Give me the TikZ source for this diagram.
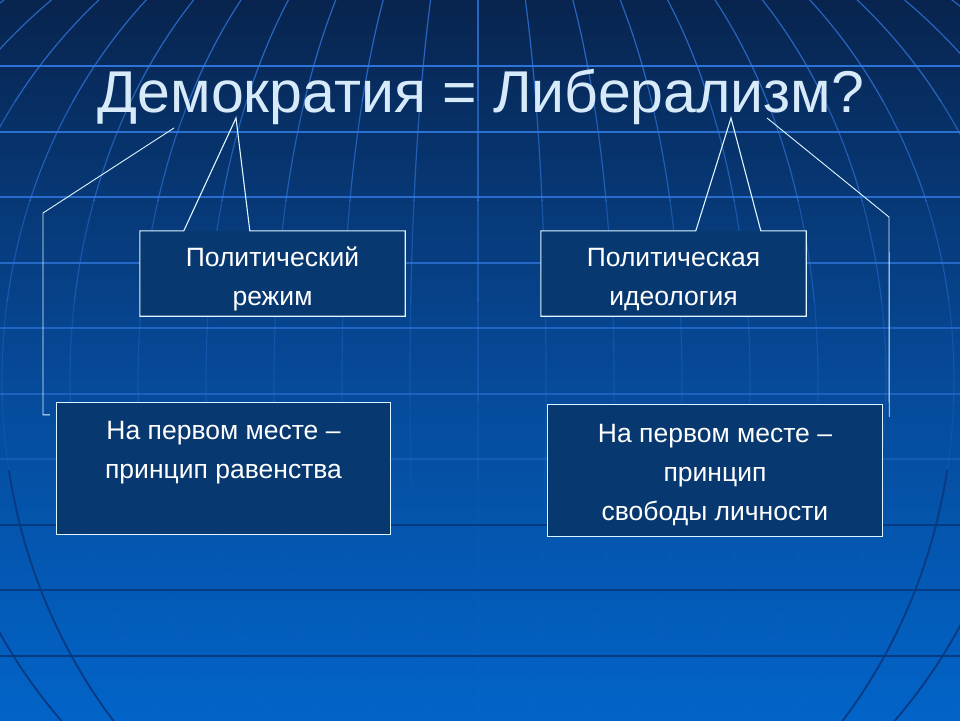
\documentclass[tikz,border=0pt]{standalone}
\usepackage{fontspec}
\setmainfont{Liberation Sans}
\usetikzlibrary{calc}
\definecolor{bgtop}{RGB}{8,36,78}
\definecolor{bgmid}{RGB}{6,72,150}
\definecolor{bgbot}{RGB}{2,100,200}
\definecolor{gridlight}{RGB}{50,122,228}
\definecolor{griddark}{RGB}{8,58,130}
\definecolor{boxfill}{RGB}{8,56,112}
\definecolor{boxline}{RGB}{222,246,255}
\definecolor{titlecol}{RGB}{214,234,250}
\begin{document}
\begin{tikzpicture}[x=1pt,y=-1pt,
  boxshape/.style={fill=boxfill, draw=none, inner sep=0pt},
  boxborder/.style={draw=boxline, line width=1.1pt, line join=miter},
  boxtext/.style={text=white, align=center, inner sep=0pt, font=\fontsize{26.5}{39}\selectfont},
  callline/.style={draw=boxline, line width=0.9pt, line join=miter},
  hline/.style={line width=2pt},
  mer/.style={line width=1.2pt},
  titlefont/.style={font=\fontsize{59}{70}\selectfont, inner sep=0pt, anchor=base}]
\useasboundingbox (0,0) rectangle (960,720);
% background
\shade[top color=bgtop, bottom color=bgmid] (0,0) rectangle (960,361);
\shade[top color=bgmid, bottom color=bgbot] (0,360) rectangle (960,720);
% meridians (fading downwards)
\foreach \ya/\yb/\o in {0/100/0.75, 100/200/0.6, 200/300/0.42, 300/400/0.28, 400/480/0.16, 480/720/0.06} {
  \begin{scope}
    \clip (0,\ya) rectangle (960,\yb);
    \foreach \k in {1,...,11}
      \draw[mer, gridlight, opacity=\o] (478,380) ellipse [x radius=68*\k, y radius=530];
    \draw[mer, gridlight, opacity=\o] (478,0) -- (478,720);
  \end{scope}
}
\begin{scope}
  \clip (0,470) rectangle (960,720);
  \foreach \k in {7,8}
    \draw[line width=1.8pt, griddark] (478,380) ellipse [x radius=68*\k, y radius=530];
\end{scope}
% horizontal lines
\foreach \y/\o in {66/0.9, 132/0.85, 197/0.8, 263/0.7, 328/0.6, 394/0.5, 459/0.3}
  \draw[hline, gridlight, opacity=\o] (0,\y) -- (960,\y);
\foreach \y in {525,590,656}
  \draw[hline, griddark] (0,\y) -- (960,\y);

% title
\node[titlefont, text=titlecol] (title) at (481,112) {Демократия = Либерализм?};

% boxes
\node[boxshape, minimum width=265pt, minimum height=85pt] (b1) at (272.5,273.5) {};
\node[boxshape, minimum width=265pt, minimum height=85pt] (b2) at (673.5,273.5) {};
\node[boxshape, minimum width=333pt, minimum height=131pt] (b3) at (223.5,468.5) {};
\node[boxshape, minimum width=334pt, minimum height=131pt] (b4) at (715,470.5) {};

\coordinate (tip1) at (236,118);
\coordinate (tip2) at (731,118);
\coordinate (l1) at (174,128);
\coordinate (l2) at (43,213);
\coordinate (r1) at (767,118);
\coordinate (r2) at (889,217);

% callout outlines
\draw[boxborder] ([xshift=44pt]b1.north west) -- (b1.north west) -- (b1.south west) -- (b1.south east)
  -- (b1.north east) -- ([xshift=110pt]b1.north west) -- (tip1) -- cycle;
\draw[boxborder] ([xshift=155pt]b2.north west) -- (b2.north west) -- (b2.south west) -- (b2.south east)
  -- (b2.north east) -- ([xshift=220pt]b2.north west) -- (tip2) -- cycle;
\draw[boxborder] (b3.north west) rectangle (b3.south east);
\draw[boxborder] (b4.north west) rectangle (b4.south east);

% line callouts
\draw[callline] ([xshift=-7pt,yshift=-12pt]b3.north west) -| (l2) -- (l1);
\draw[callline] ([xshift=7pt,yshift=-12pt]b4.north east) -- (r2) -- (r1);

% texts
\node[boxtext] (t1) at (272.5,278.2) {\strut Политический\\\strut режим};
\node[boxtext] (t2) at (673.5,278.2) {\strut Политическая\\\strut идеология};
\node[boxtext] (t3) at (223.5,451.5) {\strut На первом месте –\\\strut принцип равенства};
\node[boxtext] (t4) at (715,473.2) {\strut На первом месте –\\\strut принцип\\\strut свободы личности};
\end{tikzpicture}
\end{document}
